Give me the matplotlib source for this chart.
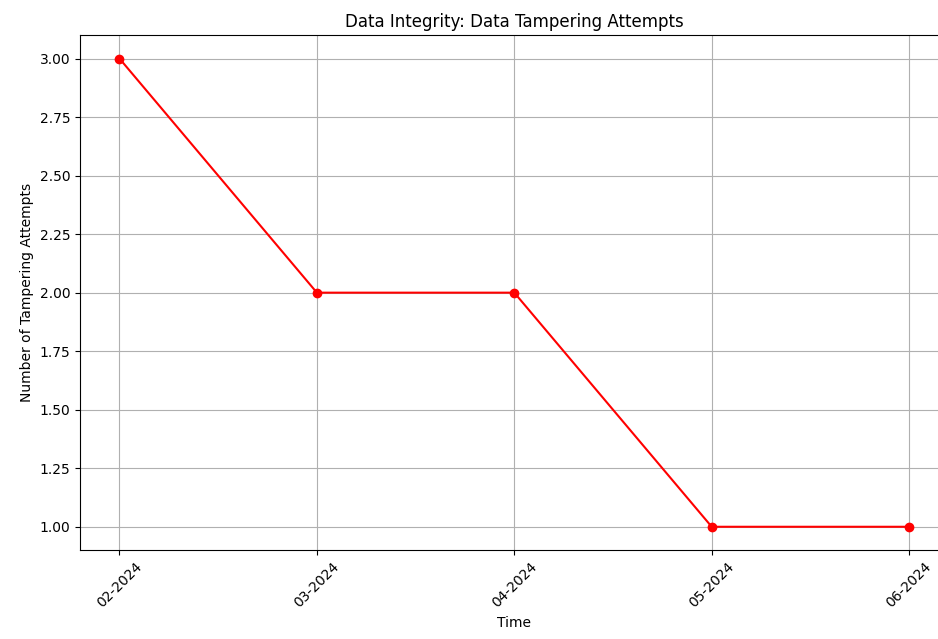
import matplotlib
matplotlib.use("Agg")
import matplotlib.pyplot as plt

# Tampering attempts per month
months = ['02-2024', '03-2024', '04-2024', '05-2024', '06-2024']
attempts = [3, 2, 2, 1, 1]

fig = plt.figure(figsize=(9.38, 6.39), dpi=100)
ax = fig.add_axes([0.0853, 0.139, 0.926, 0.806])
ax.plot(months, attempts, marker='o', color='red')
ax.set_title("Data Integrity: Data Tampering Attempts")
ax.set_xlabel("Time")
ax.set_ylabel("Number of Tampering Attempts")
ax.tick_params(axis='x', labelrotation=45)
ax.grid(True)
fig.savefig("out.png", dpi=100)
